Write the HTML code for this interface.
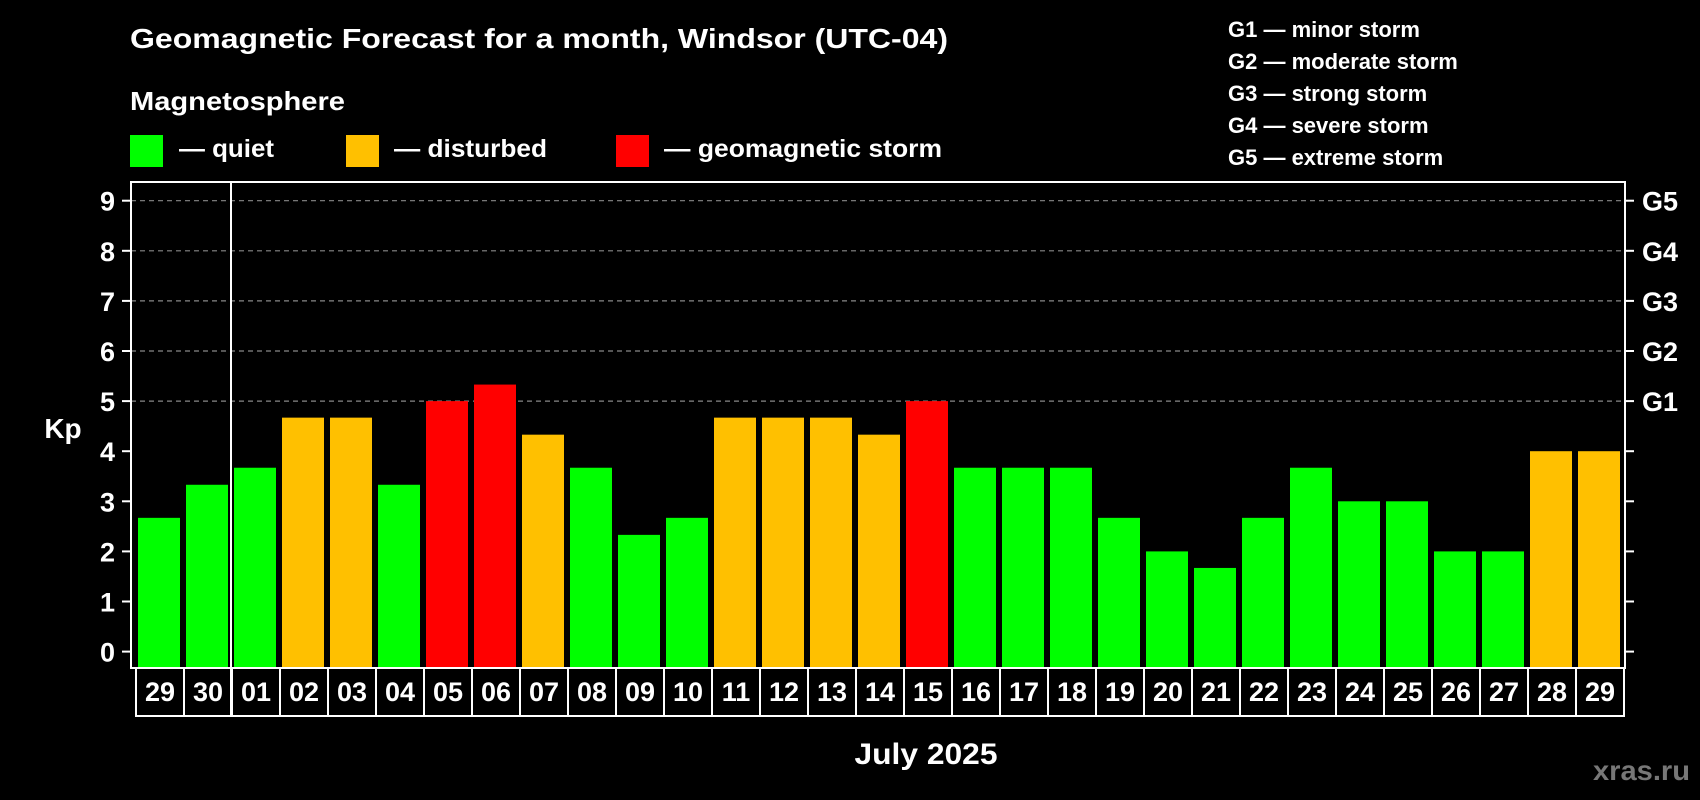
<!DOCTYPE html>
<html><head><meta charset="utf-8"><style>
html,body{margin:0;padding:0;background:#000;width:1700px;height:800px;overflow:hidden}
svg{display:block}
text{font-family:"Liberation Sans",sans-serif;font-weight:bold;fill:#fff}
</style></head><body>
<svg id="chart" width="1700" height="800" viewBox="0 0 1700 800">
<text x="130" y="48" font-size="28" textLength="818" lengthAdjust="spacingAndGlyphs">Geomagnetic Forecast for a month, Windsor (UTC-04)</text>
<text x="130" y="110" font-size="26" textLength="215" lengthAdjust="spacingAndGlyphs">Magnetosphere</text>
<g><rect x="130" y="135" width="33" height="32" fill="#00ff00"/><text x="179" y="157" font-size="25" textLength="95" lengthAdjust="spacingAndGlyphs">— quiet</text></g>
<g><rect x="346" y="135" width="33" height="32" fill="#ffc000"/><text x="394" y="157" font-size="25" textLength="153" lengthAdjust="spacingAndGlyphs">— disturbed</text></g>
<g><rect x="616" y="135" width="33" height="32" fill="#ff0000"/><text x="664" y="157" font-size="25" textLength="278" lengthAdjust="spacingAndGlyphs">— geomagnetic storm</text></g>
<g font-size="22">
<text x="1228" y="37">G1 — minor storm</text>
<text x="1228" y="69">G2 — moderate storm</text>
<text x="1228" y="101">G3 — strong storm</text>
<text x="1228" y="133">G4 — severe storm</text>
<text x="1228" y="165">G5 — extreme storm</text>
</g>
<g id="grid"></g>
<g id="bars"></g>
<g id="axes"></g>
<text x="63" y="438" font-size="28" text-anchor="middle">Kp</text>
<text x="926" y="764" font-size="30" text-anchor="middle" textLength="143" lengthAdjust="spacingAndGlyphs">July 2025</text>
<text x="1690" y="780" font-size="28" text-anchor="end" style="fill:#777" textLength="97" lengthAdjust="spacingAndGlyphs">xras.ru</text>
</svg>
<script>
const days = ["29","30","01","02","03","04","05","06","07","08","09","10","11","12","13","14","15","16","17","18","19","20","21","22","23","24","25","26","27","28","29"];
const kpValues = [2.67,3.33,3.67,4.67,4.67,3.33,5,5.33,4.33,3.67,2.33,2.67,4.67,4.67,4.67,4.33,5,3.67,3.67,3.67,2.67,2,1.67,2.67,3.67,3,3,2,2,4,4];
const levels = ["quiet","quiet","quiet","disturbed","disturbed","quiet","storm","storm","disturbed","quiet","quiet","quiet","disturbed","disturbed","disturbed","disturbed","storm","quiet","quiet","quiet","quiet","quiet","quiet","quiet","quiet","quiet","quiet","quiet","quiet","disturbed","disturbed"];
const yTicks = [0,1,2,3,4,5,6,7,8,9];
const gLabels = ["G1","G2","G3","G4","G5"];
const gValues = [5,6,7,8,9];

const NS="http://www.w3.org/2000/svg";
const L=131,R=1625,T=182,B=668,slotX0=136,slotW=48,barW=42;
const y0=651.6,unit=50.1;
const yScale=v=>y0-v*unit;
const xScale=i=>slotX0+i*slotW;
const colors={quiet:"#00ff00",disturbed:"#ffc000",storm:"#ff0000"};
function mk(tag,attrs,parent){const e=document.createElementNS(NS,tag);for(const k in attrs)e.setAttribute(k,attrs[k]);parent.appendChild(e);return e;}
const grid=document.getElementById('grid'),bars=document.getElementById('bars'),axes=document.getElementById('axes');
gValues.forEach(v=>{
  const l=mk('line',{x1:L,x2:R,y1:yScale(v),y2:yScale(v),stroke:'#888','stroke-width':1.2,'stroke-dasharray':'5,4'},grid);
  
  
});
kpValues.forEach((v,i)=>{
  const r=mk('rect',{x:xScale(i)+2,y:yScale(v),width:barW,height:B-yScale(v),fill:colors[levels[i]]},bars);
  
  
});
const frame=mk('rect',{x:L,y:T,width:R-L,height:B-T,fill:'none',stroke:'#fff','stroke-width':2},axes);


yTicks.forEach(v=>{
  const y=yScale(v);
  mk('line',{x1:L-9,x2:L,y1:y,y2:y,stroke:'#fff','stroke-width':2},axes);
  mk('line',{x1:R,x2:R+9,y1:y,y2:y,stroke:'#fff','stroke-width':2},axes);
  const t=mk('text',{x:115,y:y+10,'font-size':27,'text-anchor':'end'},axes);
  t.textContent=v;
  
  
});
gLabels.forEach((g,i)=>{
  const t=mk('text',{x:1642,y:yScale(gValues[i])+10,'font-size':27},axes);
  t.textContent=g;
  
  
});
// date boxes
const dbox=mk('rect',{x:slotX0,y:B,width:slotW*days.length,height:48,fill:'none',stroke:'#fff','stroke-width':2},axes);


days.forEach((d,i)=>{
  if(i>0) mk('line',{x1:xScale(i),x2:xScale(i),y1:B,y2:B+48,stroke:'#fff','stroke-width':2},axes);
  const t=mk('text',{x:xScale(i)+slotW/2,y:B+33,'font-size':27,'text-anchor':'middle'},axes);
  t.textContent=d;
  
  
});
const sep=mk('line',{x1:xScale(2)-1,x2:xScale(2)-1,y1:T,y2:B+48,stroke:'#fff','stroke-width':2},axes);


</script>
</body></html>
